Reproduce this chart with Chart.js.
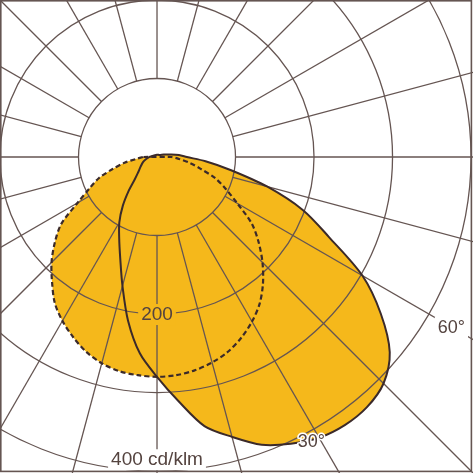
<!DOCTYPE html>
<html><head><meta charset="utf-8">
<script src="https://cdn.jsdelivr.net/npm/chart.js@4.4.1/dist/chart.umd.min.js"></script>
<style>html,body{margin:0;padding:0;background:#fff;}canvas{display:block;}</style>
</head><body>
<canvas id="c" width="473" height="473"></canvas>
<script>
// C0-C180 plane (solid), angle from nadir in degrees, intensity in cd/klm
const solidAngles = [-90,-80,-70,-60,-50,-45,-40,-35,-30,-25,-20,-15,-10,-5,0,5,10,15,20,25,30,35,40,45,50,55,60,65,70,75,80,85,90,95,100,110,130,180];
const solidValues = [10,14,19,24,32,40,56,76,96,114,137,170,212,251,280,312,348,369,390,403,413,417,416,408,387,348,302,242,198,145,95,62,38,28,18,9,4,3];
// C90-C270 plane (dashed)
const dashedAngles = [-90,-85,-80,-75,-70,-65,-60,-55,-50,-45,-40,-35,-30,-25,-20,-15,-10,-5,0,5,10,15,20,25,30,35,40,45,50,55,60,65,70,75,80,85,90];
const dashedValues = [18,26,42,58,79,95,117,149,170,190,208,227,241,253,264,272,277,279,280,279,276,271,264,254,242,228,210,190,169,147,118,97,79,57,42,28,18];
// grid
const ringValues = [100,200,300,400];
const spokeAngles = [0,15,30,45,60,75,90,105,120,135,150,165,180,195,210,225,240,255,270,285,300,315,330,345];
const ringLabels = ['200','400 cd/klm'];
const angleLabels = ['30°','60°'];

const YELLOW = '#f5b81b';
const GRID = '#655552';
const OUTLINE = '#3b2a2a';
const TEXT = '#54433f';

function toXY(a, v){ const t=a*Math.PI/180; return {x: v*Math.sin(t), y: -v*Math.cos(t)}; }
const solidPts = solidAngles.map((a,i)=>toXY(a, solidValues[i]));
solidPts.push(solidPts[0]);
const dashedPts = dashedAngles.map((a,i)=>toXY(a, dashedValues[i]));
dashedPts.push(dashedPts[0]);

function px(chart, a, v){
  const p = toXY(a, v);
  return {x: chart.scales.x.getPixelForValue(p.x), y: chart.scales.y.getPixelForValue(p.y)};
}

const gridPlugin = {
  id: 'polarGrid',
  beforeDatasetsDraw(chart){
    const {ctx, chartArea} = chart;
    const c = px(chart, 0, 0);
    ctx.save();
    ctx.beginPath(); ctx.rect(chartArea.left, chartArea.top, chartArea.width, chartArea.height); ctx.clip();
    ctx.strokeStyle = GRID; ctx.lineWidth = 1.3;
    ringValues.forEach(v=>{
      const r = chart.scales.x.getPixelForValue(v) - c.x;
      ctx.beginPath(); ctx.arc(c.x, c.y, r, 0, Math.PI*2); ctx.stroke();
    });
    spokeAngles.forEach(a=>{
      const p0 = px(chart, a, ringValues[0]);
      const p1 = px(chart, a, 1500);
      ctx.beginPath(); ctx.moveTo(p0.x, p0.y); ctx.lineTo(p1.x, p1.y); ctx.stroke();
    });
    ctx.restore();
  },
  afterDatasetsDraw(chart){
    const {ctx} = chart;
    ctx.save();
    ctx.textAlign = 'center'; ctx.textBaseline = 'middle';
    function boxLabel(text, p, bg, font){
      ctx.font = font;
      const w = ctx.measureText(text).width;
      ctx.fillStyle = bg;
      ctx.fillRect(p.x - w/2 - 3, p.y - 10, w + 6, 21);
      ctx.fillStyle = TEXT;
      ctx.fillText(text, p.x, p.y + 1);
    }
    boxLabel(ringLabels[0], px(chart, 0, 200), YELLOW, '19px "Liberation Sans", Arial, sans-serif');
    boxLabel(ringLabels[1], px(chart, 0, 385), '#ffffff', '19px "Liberation Sans", Arial, sans-serif');
    boxLabel(angleLabels[1], px(chart, 60, 433), '#ffffff', '18px "Liberation Sans", Arial, sans-serif');
    // 30° label with white halo
    const p = px(chart, 28.5, 412);
    ctx.font = '18px "Liberation Sans", Arial, sans-serif';
    ctx.strokeStyle = '#ffffff'; ctx.lineWidth = 3; ctx.lineJoin = 'round';
    ctx.strokeText(angleLabels[0], p.x, p.y + 1);
    ctx.fillStyle = TEXT;
    ctx.fillText(angleLabels[0], p.x, p.y + 1);
    ctx.restore();
  },
  afterDraw(chart){
    const {ctx, width, height} = chart;
    ctx.save();
    ctx.strokeStyle = GRID; ctx.lineWidth = 1.6;
    ctx.strokeRect(0.8, 0.8, width - 2.4, height - 2.4);
    ctx.restore();
  }
};

new Chart(document.getElementById('c'), {
  type: 'scatter',
  data: {
    datasets: [
      { data: dashedPts, showLine: true, fill: 'shape', backgroundColor: YELLOW, borderColor: OUTLINE,
        borderWidth: 2.2, borderDash: [5,3], pointRadius: 0, tension: 0.3 },
      { data: solidPts, showLine: true, fill: 'shape', backgroundColor: YELLOW, borderColor: OUTLINE,
        borderWidth: 2, pointRadius: 0, tension: 0.3 }
    ]
  },
  options: {
    responsive: false,
    animation: false,
    devicePixelRatio: 1,
    layout: { padding: 0 },
    scales: {
      x: { type: 'linear', min: -200, max: 402.5, display: false },
      y: { type: 'linear', min: -402.5, max: 200, display: false }
    },
    plugins: {
      legend: { display: false },
      tooltip: { enabled: false },
      filler: { drawTime: 'beforeDraw' }
    }
  },
  plugins: [gridPlugin]
});
</script>
</body></html>
